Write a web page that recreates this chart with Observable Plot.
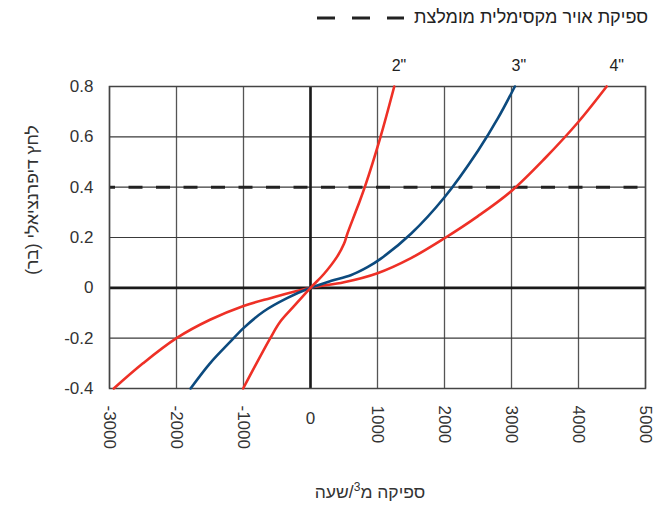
<!DOCTYPE html>
<html>
<head>
<meta charset="utf-8">
<script src="https://cdn.jsdelivr.net/npm/d3@7"></script>
<script src="https://cdn.jsdelivr.net/npm/@observablehq/plot@0.6"></script>
<style>
  body { margin: 0; background: #fff; font-family: "Liberation Sans", Arial, sans-serif; }
  #wrap { position: relative; width: 669px; height: 507px; }
  #wrap > svg { position: absolute; left: 0; top: 0; }
  #legend { position: absolute; top: 7px; right: 21px; display: flex; align-items: center; gap: 10px;
            font-size: 18px; color: #222; direction: ltr; z-index: 2; }
  .ttl { position: absolute; white-space: nowrap; color: #333; font-size: 17.5px; z-index: 2; }
  #ytitle { left: 32px; top: 200px; transform: translate(-50%, -50%) rotate(-90deg); }
  #xtitle { left: 370px; top: 492px; transform: translate(-50%, -50%); }
  sup { font-size: 12px; line-height: 0; }
</style>
</head>
<body>
<div id="wrap">
  <div id="legend">
    <svg width="87" height="6"><line x1="0" y1="3" x2="87" y2="3" stroke="#222" stroke-width="3" stroke-dasharray="18,17"/></svg>
    <span id="legendText" dir="rtl"></span>
  </div>
  <div id="ytitle" class="ttl" dir="rtl"></div>
  <div id="xtitle" class="ttl" dir="rtl"></div>
</div>
<script>
// ---- data ----
const legendLabel = "ספיקת אויר מקסימלית מומלצת";
const xTitleParts = ["ספיקה מ", "3", "/שעה"];
const yTitle = "לחץ דיפרנציאלי (בר)";
const maxAirLimit = [0.4];

const xTicks = [-3000, -2000, -1000, 0, 1000, 2000, 3000, 4000, 5000];
const yTicks = [-0.4, -0.2, 0, 0.2, 0.4, 0.6, 0.8];

// 2" valve
const flow2 = [-1005, -600, -450, -250, 0, 200, 400, 500, 550, 700, 810, 1045, 1250];
const dp2   = [-0.40, -0.20, -0.134, -0.074, 0, 0.055, 0.125, 0.175, 0.215, 0.32, 0.40, 0.60, 0.80];
// 3" valve
const flow3 = [-1790, -1500, -1200, -1000, -700, -350, 0, 300, 600, 850, 1045, 1500, 2000, 2500, 2800, 3050];
const dp3   = [-0.40, -0.30, -0.215, -0.16, -0.094, -0.041, 0, 0.027, 0.05, 0.082, 0.115, 0.215, 0.36, 0.545, 0.675, 0.80];
// 4" valve
const flow4 = [-2936, -2500, -2000, -1500, -1000, -600, 0, 500, 1000, 1500, 2000, 2500, 3000, 3500, 4000, 4420];
const dp4   = [-0.40, -0.30, -0.20, -0.127, -0.072, -0.041, 0, 0.022, 0.058, 0.118, 0.197, 0.285, 0.385, 0.515, 0.66, 0.80];

const curveLabels = ['2"', '3"', '4"'];
const curveLabelFlow = [1320, 3110, 4570];

// ---- build tables ----
const toRows = (fx, fy) => fx.map((x, i) => ({x, y: fy[i]}));
const s2 = toRows(flow2, dp2), s3 = toRows(flow3, dp3), s4 = toRows(flow4, dp4);
const labels = curveLabels.map((t, i) => ({t, x: curveLabelFlow[i]}));

document.getElementById("legendText").textContent = legendLabel;
document.getElementById("ytitle").textContent = yTitle;
{
  const xt = document.getElementById("xtitle");
  xt.append(xTitleParts[0]);
  const sp = document.createElement("sup"); sp.textContent = xTitleParts[1]; xt.append(sp);
  xt.append(xTitleParts[2]);
}

const RED = "#ee3026", BLUE = "#0c4a7e", GRID = "#3a3a3a", TXT = "#333";
const FONT = "Liberation Sans, Arial, sans-serif";

const chart = Plot.plot({
  width: 669,
  height: 507,
  marginTop: 86,
  marginBottom: 119,
  marginLeft: 109,
  marginRight: 24,
  style: { fontFamily: FONT, background: "transparent", overflow: "visible" },
  x: { domain: [-3000, 5000], axis: null },
  y: { domain: [-0.4, 0.8], axis: null },
  marks: [
    Plot.ruleX(xTicks, { stroke: "#555", strokeWidth: 1.3 }),
    Plot.ruleY(yTicks, { stroke: GRID, strokeWidth: 1.2 }),
    Plot.ruleX([0], { stroke: "#1a1a1a", strokeWidth: 2.6 }),
    Plot.ruleY([0], { stroke: "#1a1a1a", strokeWidth: 2.6 }),
    Plot.ruleY(maxAirLimit, { stroke: "#222", strokeWidth: 3, strokeDasharray: "14,13.5", strokeDashoffset: 8 }),
    Plot.frame({ stroke: "#444", strokeWidth: 1.5 }),
    Plot.line(s4, { x: "x", y: "y", stroke: RED, strokeWidth: 2.6, curve: "catmull-rom" }),
    Plot.line(s3, { x: "x", y: "y", stroke: BLUE, strokeWidth: 2.6, curve: "catmull-rom" }),
    Plot.line(s2, { x: "x", y: "y", stroke: RED, strokeWidth: 2.6, curve: "catmull-rom" }),
    // y tick labels
    Plot.text(yTicks, { x: -3000, y: d => d, text: d => d === 0 ? "0" : d.toFixed(1),
      textAnchor: "end", dx: -16, fontSize: 17, fill: TXT }),
    // x tick labels (rotated, except 0)
    Plot.text(xTicks.filter(d => d !== 0), { x: d => d, frameAnchor: "bottom", text: d => String(d),
      rotate: 90, textAnchor: "start", lineAnchor: "middle", dy: 17, fontSize: 17, fill: TXT }),
    Plot.text([0], { x: d => d, frameAnchor: "bottom", text: d => String(d),
      lineAnchor: "middle", dy: 30, fontSize: 17, fill: TXT }),
    // curve labels
    Plot.text(labels, { x: "x", frameAnchor: "top", text: "t", lineAnchor: "middle", dy: -21, fontSize: 16, fill: "#222" })
  ]
});
document.getElementById("wrap").appendChild(chart);
</script>
</body>
</html>
